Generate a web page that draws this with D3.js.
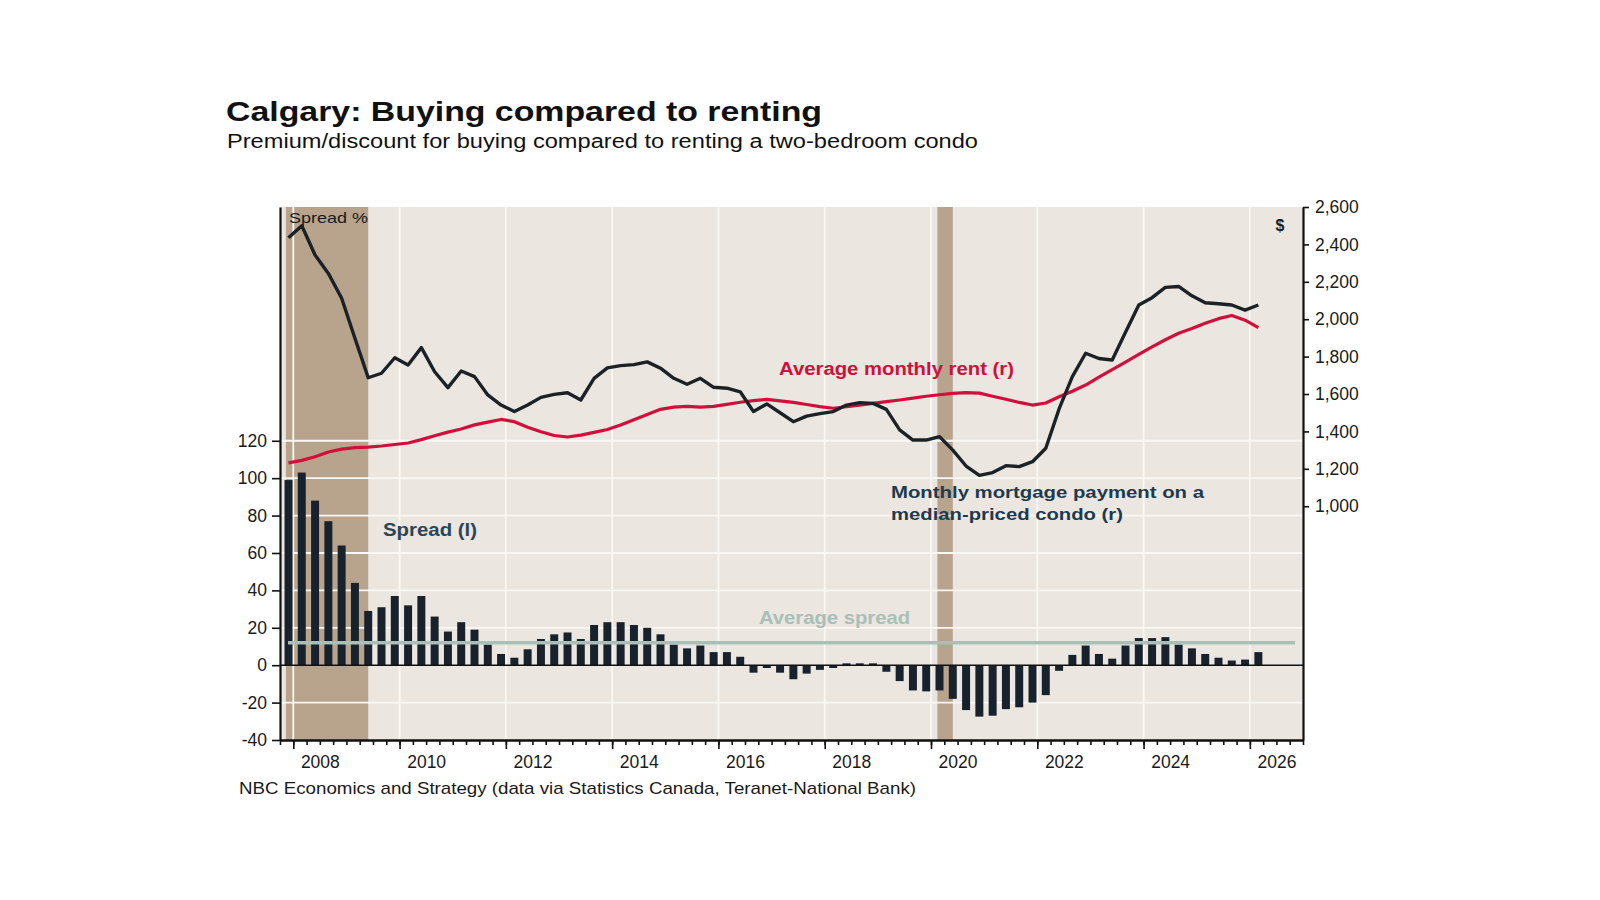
<!DOCTYPE html>
<html>
<head>
<meta charset="utf-8">
<script src="https://cdnjs.cloudflare.com/ajax/libs/d3/7.8.5/d3.min.js"></script>
<style>
body { margin: 0; background: #fff; }
svg text { font-family: "Liberation Sans", Arial, sans-serif; }
</style>
</head>
<body>
<svg id="chart" width="1600" height="900"></svg>
<script>
// quarterly observations, Q4 2007 .. Q1 2026
const quarters = [
    "2007Q4",
    "2008Q1", "2008Q2", "2008Q3", "2008Q4", "2009Q1", "2009Q2", "2009Q3", "2009Q4",
    "2010Q1", "2010Q2", "2010Q3", "2010Q4", "2011Q1", "2011Q2", "2011Q3", "2011Q4",
    "2012Q1", "2012Q2", "2012Q3", "2012Q4", "2013Q1", "2013Q2", "2013Q3", "2013Q4",
    "2014Q1", "2014Q2", "2014Q3", "2014Q4", "2015Q1", "2015Q2", "2015Q3", "2015Q4",
    "2016Q1", "2016Q2", "2016Q3", "2016Q4", "2017Q1", "2017Q2", "2017Q3", "2017Q4",
    "2018Q1", "2018Q2", "2018Q3", "2018Q4", "2019Q1", "2019Q2", "2019Q3", "2019Q4",
    "2020Q1", "2020Q2", "2020Q3", "2020Q4", "2021Q1", "2021Q2", "2021Q3", "2021Q4",
    "2022Q1", "2022Q2", "2022Q3", "2022Q4", "2023Q1", "2023Q2", "2023Q3", "2023Q4",
    "2024Q1", "2024Q2", "2024Q3", "2024Q4", "2025Q1", "2025Q2", "2025Q3", "2025Q4",
    "2026Q1"
];

// spread %, left axis
const spread = [
    99, 103, 88, 77, 64, 44, 29, 31, 37, 32,
    37, 26, 18, 23, 19, 11, 6, 4, 8.5, 14,
    16.5, 17.5, 14, 21.5, 23, 23, 21.5, 20, 16.5, 11,
    9, 10.5, 7, 7, 4.5, -4, -1.5, -4, -7.5, -4.5,
    -2.5, -1.5, 1, 1, 1, -3.5, -8.5, -13.5, -14, -13.5,
    -18, -24, -27.5, -27, -23.5, -22.5, -20, -16, -3, 5.5,
    10.5, 6, 3.5, 10.5, 14.5, 14.5, 15, 11, 9, 6,
    4, 2.5, 3, 7
];

// monthly mortgage payment on a median-priced condo, $ right axis
const mortgage = [
    2436, 2500, 2343, 2245, 2112, 1898, 1687, 1711, 1794, 1755,
    1848, 1719, 1634, 1723, 1693, 1595, 1541, 1506, 1541, 1582,
    1598, 1607, 1568, 1684, 1740, 1752, 1757, 1772, 1738, 1684,
    1652, 1684, 1636, 1631, 1612, 1506, 1547, 1500, 1452, 1482,
    1495, 1506, 1541, 1554, 1550, 1518, 1408, 1354, 1354, 1372,
    1300, 1215, 1165, 1180, 1217, 1212, 1238, 1310, 1520, 1693,
    1818, 1790, 1782, 1930, 2076, 2115, 2170, 2175, 2125, 2088,
    2083, 2076, 2049, 2076
];

// average monthly rent, $ right axis
const rent = [
    1232, 1245, 1265, 1290, 1305, 1313, 1316, 1322, 1330, 1338,
    1356, 1377, 1396, 1413, 1435, 1450, 1464, 1452, 1422, 1398,
    1378, 1370, 1380, 1395, 1410, 1434, 1462, 1490, 1518, 1530,
    1534, 1530, 1534, 1545, 1556, 1565, 1571, 1563, 1555, 1544,
    1533, 1524, 1532, 1541, 1550, 1559, 1568, 1578, 1588, 1596,
    1603, 1607, 1605, 1588, 1572, 1555, 1541, 1552, 1585, 1615,
    1648, 1690, 1730, 1770, 1812, 1852, 1890, 1925, 1950, 1978,
    2003, 2020, 1995, 1955
];

const leftTicks = [-40, -20, 0, 20, 40, 60, 80, 100, 120];
const rightTicks = [1000, 1200, 1400, 1600, 1800, 2000, 2200, 2400, 2600];
const yearLabels = [2008, 2010, 2012, 2014, 2016, 2018, 2020, 2022, 2024, 2026];
const recessions = [[2007.86, 2009.41], [2020.12, 2020.41]];
const averageSpread = 12;
const averageSpan = [2007.9, 2026.85];

const margin = { top: 207, right: 297, bottom: 160, left: 280 },
    width = 1600 - margin.left - margin.right,
    height = 900 - margin.top - margin.bottom;

// observations sit a little right of the quarter midpoint in the original
const toYear = q => +q.slice(0, 4) + (+q.slice(5) - 1) / 4 + 0.16;
const data = quarters.map((q, i) => ({
    t: toYear(q),
    spread: spread[i],
    mortgage: mortgage[i],
    rent: rent[i]
}));

const root = d3.select("#chart");
const svg = root.append("g")
    .attr("transform", `translate(${margin.left},${margin.top})`);

const x = d3.scaleLinear().domain([2007.75, 2027]).range([0, width]);
const yL = d3.scaleLinear().domain([-40, 245]).range([height, 0]);
const yR = d3.scaleLinear().domain([-250, 2600]).range([height, 0]);

// background
svg.append("rect")
    .attr("width", width)
    .attr("height", height)
    .attr("fill", "#ebe6df");

// recession shading
svg.append("g")
    .selectAll("rect")
    .data(recessions)
    .enter()
    .append("rect")
    .attr("x", d => x(d[0]))
    .attr("width", d => x(d[1]) - x(d[0]))
    .attr("y", 0)
    .attr("height", height)
    .attr("fill", "#b8a38c");

// grid
svg.append("g")
    .selectAll("line")
    .data(yearLabels)
    .enter()
    .append("line")
    .attr("x1", d => x(d))
    .attr("x2", d => x(d))
    .attr("y1", 0)
    .attr("y2", height)
    .attr("stroke", "#faf8f5")
    .attr("stroke-width", 1.8);

svg.append("g")
    .selectAll("line")
    .data(leftTicks.filter(d => d !== 0 && d !== -40))
    .enter()
    .append("line")
    .attr("x1", 0)
    .attr("x2", width)
    .attr("y1", d => yL(d))
    .attr("y2", d => yL(d))
    .attr("stroke", "#faf8f5")
    .attr("stroke-width", 1.8);

// spread bars
const barW = (x(0.25) - x(0)) * 0.6;
svg.append("g")
    .selectAll("rect")
    .data(data)
    .enter()
    .append("rect")
    .attr("x", d => x(d.t) - barW / 2)
    .attr("width", barW)
    .attr("y", d => yL(Math.max(0, d.spread)))
    .attr("height", d => Math.abs(yL(d.spread) - yL(0)))
    .attr("fill", "#17222c");

// average spread
svg.append("line")
    .attr("x1", x(averageSpan[0]))
    .attr("x2", x(averageSpan[1]))
    .attr("y1", yL(averageSpread))
    .attr("y2", yL(averageSpread))
    .attr("stroke", "#a9c0b8")
    .attr("stroke-width", 3.5);

// zero line
svg.append("line")
    .attr("x1", 0)
    .attr("x2", width)
    .attr("y1", yL(0))
    .attr("y2", yL(0))
    .attr("stroke", "#111")
    .attr("stroke-width", 1.5);

// lines
const rentLine = d3.line().x(d => x(d.t)).y(d => yR(d.rent));
const mortLine = d3.line().x(d => x(d.t)).y(d => yR(d.mortgage));

svg.append("path")
    .datum(data)
    .attr("fill", "none")
    .attr("stroke", "#d0103a")
    .attr("stroke-width", 3.2)
    .attr("stroke-linejoin", "round")
    .attr("d", rentLine);

svg.append("path")
    .datum(data)
    .attr("fill", "none")
    .attr("stroke", "#1b2227")
    .attr("stroke-width", 3.4)
    .attr("stroke-linejoin", "round")
    .attr("d", mortLine);

// axes
svg.append("g")
    .call(d3.axisLeft(yL).tickValues(leftTicks).tickSize(8).tickPadding(5).tickSizeOuter(0)
        .tickFormat(d => String(d)));
svg.append("g")
    .attr("transform", `translate(${width},0)`)
    .call(d3.axisRight(yR).tickValues(rightTicks).tickFormat(d3.format(",")).tickSize(6).tickPadding(6).tickSizeOuter(0));

svg.append("g")
    .attr("transform", `translate(0,${height})`)
    .call(d3.axisBottom(x).tickValues(d3.range(2007.75, 2027.01, 0.25)).tickSize(5).tickFormat("").tickSizeOuter(0));
svg.append("g")
    .attr("transform", `translate(0,${height})`)
    .call(d3.axisBottom(x).tickValues(yearLabels).tickSize(9).tickFormat("").tickSizeOuter(0));
const bottomLabels = svg.append("g")
    .attr("transform", `translate(0,${height})`)
    .call(d3.axisBottom(x).tickValues(yearLabels.map(d => d + 0.5)).tickSize(0).tickPadding(16)
        .tickFormat(d => Math.floor(d)));
bottomLabels.select(".domain").remove();

svg.selectAll(".domain").attr("stroke", "#111").attr("stroke-width", 2.2);
svg.selectAll(".tick line").attr("stroke", "#111").attr("stroke-width", 1.6);
svg.selectAll(".tick text")
    .attr("fill", "#1a1a1a")
    .style("font-size", "17.5px")
    .style("font-family", "'Liberation Sans', Arial, sans-serif");

// titles
function label(txt, px, py, size, weight, color, len, anchor) {
    const t = root.append("text")
        .attr("x", px)
        .attr("y", py)
        .attr("fill", color)
        .style("font-size", size + "px")
        .style("font-weight", weight)
        .attr("text-anchor", anchor || "start")
        .text(txt);
    if (len) t.attr("textLength", len).attr("lengthAdjust", "spacingAndGlyphs");
    return t;
}

label("Calgary: Buying compared to renting", 226, 121, 28.5, "bold", "#111", 596);
label("Premium/discount for buying compared to renting a two-bedroom condo", 227, 148, 20, "normal", "#111", 751);
label("NBC Economics and Strategy (data via Statistics Canada, Teranet-National Bank)", 239, 794, 17, "normal", "#1a1a1a", 677);

label("Spread %", 289, 223, 15, "normal", "#1a1a1a", 79);
label("$", 1280, 231, 16, "bold", "#1a1a1a", null, "middle");
label("Average monthly rent (r)", 779, 375, 18, "bold", "#d0103a", 235);
label("Spread (l)", 383, 536, 18, "bold", "#2b4658", 94);
label("Monthly mortgage payment on a", 891, 498, 17, "bold", "#1d3a4f", 313);
label("median-priced condo (r)", 891, 520, 17, "bold", "#1d3a4f", 232);
label("Average spread", 759, 624, 17.5, "bold", "#a9c0b8", 151);
</script>
</body>
</html>
